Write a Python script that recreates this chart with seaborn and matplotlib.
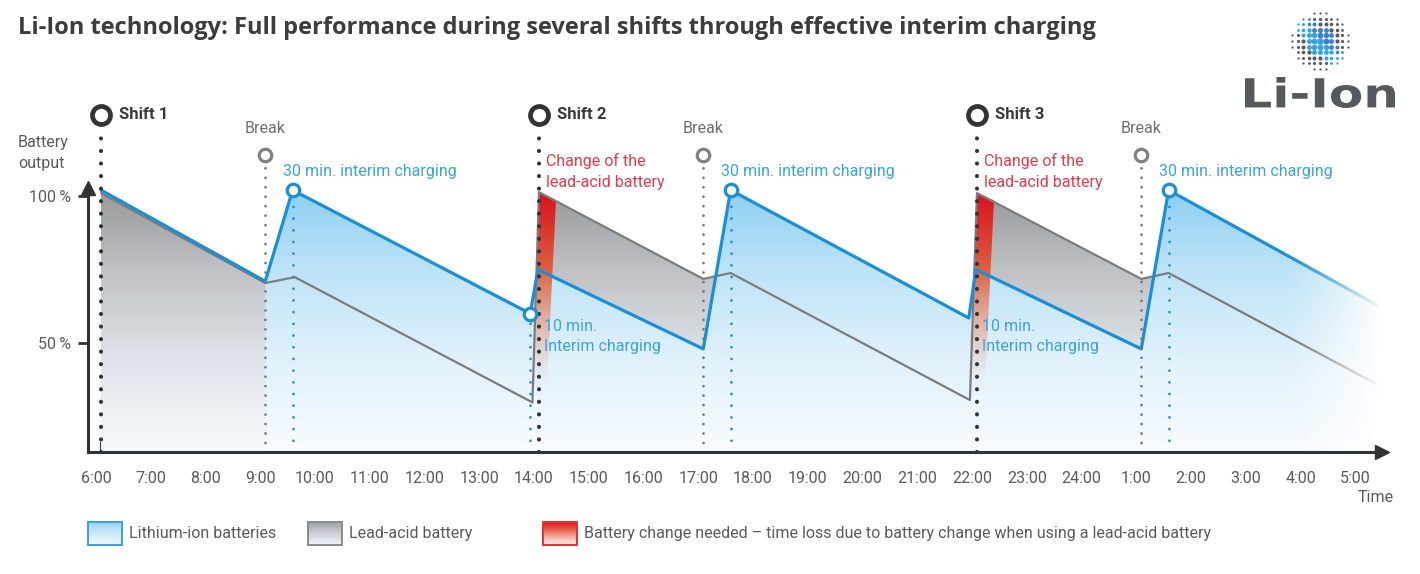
import matplotlib
matplotlib.use("Agg")
import matplotlib.pyplot as plt
import numpy as np
import seaborn as sns
from matplotlib.colors import LinearSegmentedColormap, to_rgba
from matplotlib.font_manager import FontProperties
from matplotlib.patches import PathPatch, Rectangle
from matplotlib.textpath import TextPath
from matplotlib.transforms import Affine2D, ScaledTranslation

TITLE = "Li-Ion technology: Full performance during several shifts through effective interim charging"

# time axis in hours counted from 6:00 (24 = midnight, 29 = 5:00 next morning)
TICK_HOURS = [6, 7, 8, 9, 10, 11, 12, 13, 14, 15, 16, 17, 18, 19, 20, 21, 22, 23, 24, 25, 26, 27, 28, 29]
TICK_LABELS = ["6:00", "7:00", "8:00", "9:00", "10:00", "11:00", "12:00", "13:00", "14:00",
               "15:00", "16:00", "17:00", "18:00", "19:00", "20:00", "21:00", "22:00", "23:00",
               "24:00", "1:00", "2:00", "3:00", "4:00", "5:00"]

# battery output in percent
LI_TIME = [6.0, 9.0, 9.5, 13.84, 13.98, 17.0, 17.5, 21.85, 21.98, 25.0, 25.5, 29.3]
LI_OUTPUT = [102, 71, 102, 60, 75, 48, 102, 58.5, 75, 48, 102, 63]
LA_TIME = [6.0, 9.0, 9.54, 13.88, 14.0, 17.0, 17.5, 21.87, 22.0, 25.0, 25.5, 29.3]
LA_OUTPUT = [101, 70.4, 72.4, 29.8, 101.3, 71.8, 73.8, 30.6, 101, 71.8, 73.8, 36]

SHIFT_TIME = [6, 14, 22]
SHIFT_NAMES = ["Shift 1", "Shift 2", "Shift 3"]
BREAK_TIME = [9, 17, 25]
CHARGE30_TIME = [9.5, 17.5, 25.5]
CHARGE30_OUTPUT = [102, 102, 102]
CHARGE10_TIME = [13.84]
CHARGE10_OUTPUT = [60]
CHANGE_TIME = [14.0, 22.0]
# red wedge (time offset from battery change, output)
WEDGE_DT = [-0.1, 0.0, 0.31, 0.13]
WEDGE_OUTPUT = [30, 101, 98.5, 30]

Y_TICKS = [50, 100]
Y_LABELS = ["50\u2009%", "100\u2009%"]

BLUE = "#1a8fd6"
BLUE_TEXT = "#3ba2dc"
RED_TEXT = "#e63a4a"
DARK = "#333333"
GREY_TEXT = "#5a5a5a"

X0, X1 = 5.7626, 29.397
Y0, Y1 = 12.93, 102.72


def vgrad_cmap(name, stops):
    """Colormap where each stop is given as (output value, colour)."""
    return LinearSegmentedColormap.from_list(
        name, [((v - Y0) / (Y1 - Y0), to_rgba(c, a)) for v, c, a in stops])


def gradient_image(ax, cmap, x0, x1, zorder):
    grad = np.linspace(1, 0, 256).reshape(-1, 1)
    return ax.imshow(grad, extent=[x0, x1, Y0, Y1], aspect="auto", cmap=cmap,
                     vmin=0, vmax=1, origin="upper", zorder=zorder, interpolation="bicubic")


def gradient_fill(ax, x, y, cmap, zorder):
    poly = ax.fill_between(x, y, Y0, facecolor="none", edgecolor="none", zorder=zorder)
    im = gradient_image(ax, cmap, min(x), max(x), zorder)
    im.set_clip_path(poly.get_paths()[0], transform=ax.transData)


def dotted_vline(ax, x, y_low, y_high, color, lw, gap, zorder):
    ax.plot([x, x], [y_low, y_high], color=color, lw=lw, ls=(0, (0.01, gap)),
            dash_capstyle="round", clip_on=False, zorder=zorder)


sns.set_theme(style="white")
plt.rcParams["font.family"] = ["Roboto", "DejaVu Sans"]

fig = plt.figure(figsize=(14.2, 5.74), dpi=100)

# overlay in pixel coordinates for title, legend and logo
ov = fig.add_axes([0, 0, 1, 1])
ov.set_xlim(0, 1420)
ov.set_ylim(574, 0)
ov.axis("off")

ax = fig.add_axes([88 / 1420, 122 / 574, 1294 / 1420, 264 / 574])
ax.patch.set_alpha(0)

grey_cmap = vgrad_cmap("lead", [(Y0, "#f7fafd", 1), (45, "#dfe4ea", 1), (75, "#bfc1c4", 1),
                                (101, "#9a9a9c", 1), (Y1, "#959597", 1)])
blue_cmap = vgrad_cmap("li", [(Y0, "#f8fbfe", 1), (45, "#e0f1fb", 1), (75, "#bde3f7", 1),
                              (102, "#8dcff1", 1), (Y1, "#8dcff1", 1)])
red_cmap = vgrad_cmap("change", [(Y0, "#f0c8bc", 0), (35, "#f0c8bc", 0), (55, "#e8a088", 0.65),
                                 (75, "#e05a3a", 0.95), (100, "#d8141e", 1), (Y1, "#d8141e", 1)])
red_legend = vgrad_cmap("change_leg", [(Y0, "#ffffff", 1), (40, "#f6d0c6", 1), (75, "#e86048", 1),
                                       (100, "#d8141e", 1), (Y1, "#d8141e", 1)])

gradient_fill(ax, LA_TIME, LA_OUTPUT, grey_cmap, 1)
gradient_fill(ax, LI_TIME[1:], LI_OUTPUT[1:], blue_cmap, 2)

for c in CHANGE_TIME:
    patch = ax.fill([c + d for d in WEDGE_DT], WEDGE_OUTPUT, facecolor="none", edgecolor="none")[0]
    im = gradient_image(ax, red_cmap, c - 0.2, c + 0.4, 3)
    im.set_clip_path(patch)

sns.lineplot(x=LA_TIME, y=LA_OUTPUT, ax=ax, color="#7c7c7c", lw=1.6, estimator=None, zorder=4)
sns.lineplot(x=LI_TIME, y=LI_OUTPUT, ax=ax, color=BLUE, lw=2.3, estimator=None, zorder=5)

# vertical dotted guides
for t in SHIFT_TIME:
    dotted_vline(ax, t, Y0, 123, DARK, 3.0, 3.0, 5.5)
for t in BREAK_TIME:
    dotted_vline(ax, t, Y0, 110.5, "#777777", 2.0, 3.4, 5.5)
for t, v in zip(CHARGE30_TIME + CHARGE10_TIME, CHARGE30_OUTPUT + CHARGE10_OUTPUT):
    dotted_vline(ax, t, Y0, v, BLUE, 2.0, 4.2, 5.5)

# fade out on the right edge
fade = np.ones((1, 256, 4))
fade[..., 3] = np.linspace(0, 1, 256) ** 1.3
ax.imshow(fade, extent=[27.6, X1, Y0, Y1], aspect="auto", zorder=6, interpolation="bicubic")

# circle markers
ax.plot(SHIFT_TIME, [127.6] * 3, "o", ms=13, mew=3.4, mec=DARK, mfc="white", clip_on=False, zorder=8)
ax.plot(BREAK_TIME, [113.9] * 3, "o", ms=9, mew=2.3, mec="#808080", mfc="white", clip_on=False, zorder=8)
ax.plot(CHARGE30_TIME + CHARGE10_TIME, CHARGE30_OUTPUT + CHARGE10_OUTPUT, "o", ms=9, mew=2.3,
        mec=BLUE, mfc="white", clip_on=False, zorder=8)

# annotations
for t, name in zip(SHIFT_TIME, SHIFT_NAMES):
    ax.text(t + 0.33, 127.6, name, fontsize=12, fontweight="bold", color="#3a3a3a",
            va="center", ha="left", clip_on=False)
for t in BREAK_TIME:
    ax.text(t, 122.8, "Break", fontsize=11.5, color="#6e6e6e", ha="center", va="center", clip_on=False)
for t in CHARGE30_TIME:
    ax.text(t - 0.17, 108.4, "30 min. interim charging", fontsize=11.5, color=BLUE_TEXT,
            ha="left", va="center", clip_on=False)
for t in CHANGE_TIME:
    ax.text(t + 0.13, 108.4, "Change of the\nlead-acid battery", fontsize=11.5, color=RED_TEXT,
            ha="left", va="center", linespacing=1.45, clip_on=False, zorder=9)
    ax.text(t + 0.1, 52.2, "10 min.\nInterim charging", fontsize=11.5, color=BLUE_TEXT,
            ha="left", va="center", linespacing=1.45, zorder=9)

# axes styling
ax.set_xlim(X0, X1)
ax.set_ylim(Y0, Y1)
ax.set_xticks(TICK_HOURS)
ax.set_xticklabels(TICK_LABELS)
ax.set_yticks(Y_TICKS)
ax.set_yticklabels(Y_LABELS)
ax.tick_params(axis="x", direction="in", length=7, width=1.5, color=DARK, pad=14,
               labelsize=11.5, labelcolor=GREY_TEXT, bottom=True)
ax.tick_params(axis="y", direction="out", length=7, width=2.0, color=DARK, pad=5,
               labelsize=11.5, labelcolor=GREY_TEXT, left=True)
# the time labels sit a little left of their ticks in the original
shift_left = ScaledTranslation(-5 / 100, 0, fig.dpi_scale_trans)
for label in ax.get_xticklabels():
    label.set_transform(label.get_transform() + shift_left)
ax.set_xlabel("")
ax.set_ylabel("")
for side in ["top", "right"]:
    ax.spines[side].set_visible(False)
for side in ["left", "bottom"]:
    ax.spines[side].set_color(DARK)
    ax.spines[side].set_linewidth(2.2)
    ax.spines[side].set_zorder(9)
ax.plot(1, 0, ">", ms=10, color=DARK, transform=ax.transAxes, clip_on=False, zorder=10)
ax.plot(0, 1, "^", ms=10, color=DARK, transform=ax.transAxes, clip_on=False, zorder=10)
ax.grid(False)

# titles and labels
ov.text(18, 28, TITLE, fontsize=17, fontweight="bold", color="#3c3c3c", ha="left", va="center",
        family=["Open Sans", "DejaVu Sans"])
ov.text(18, 153, "Battery\noutput", fontsize=11.5, color=GREY_TEXT, ha="left", va="center", linespacing=1.5)
ov.text(1376, 497, "Time", fontsize=11.5, color=GREY_TEXT, ha="center", va="center")

# legend
legend_items = [
    (88, "Lithium-ion batteries", blue_cmap, "#3aa0dc"),
    (308, "Lead-acid battery", grey_cmap, "#8a8a8a"),
    (543, "Battery change needed \u2013 time loss due to battery change when using a lead-acid battery",
     red_legend, "#e0303a"),
]
for x, label, cmap, edge in legend_items:
    grad = np.linspace(0.95, 0.15, 64).reshape(-1, 1)
    ov.imshow(grad, extent=[x, x + 34, 545, 522], aspect="auto", cmap=cmap, vmin=0, vmax=1,
              origin="upper", zorder=2)
    ov.add_patch(Rectangle((x, 522), 34, 23, fill=False, edgecolor=edge, lw=1.4, zorder=3))
    ov.text(x + 41, 533.5, label, fontsize=11.5, color=GREY_TEXT, ha="left", va="center")

# logo: dotted sphere and word mark
cx, cy, R = 1320, 41, 29
for i in range(-7, 8):
    for j in range(-7, 8):
        dx = i * 5.6
        dy = j * 5.6
        r = np.hypot(dx, dy)
        if r > R:
            continue
        size = 2.5 + 20 * (1 - r / R) ** 1.3
        band = dx + dy
        if abs(band) < 12 or (abs(band) < 20 and r < 16):
            colour = "#3a7fd0" if band > 0 else "#2ea3e6"
        else:
            colour = "#5a5b5d"
        ov.scatter(cx + dx, cy - dy, s=size, color=colour, lw=0, zorder=3)

tp = TextPath((0, 0), "Li-Ion", size=1, prop=FontProperties(family="DejaVu Sans", weight="bold"))
ext = tp.get_extents()
w, h = 150, 31
trans = (Affine2D().translate(-ext.x0, -ext.y0)
         .scale(w / ext.width, -h / ext.height).translate(1245, 108))
ov.add_patch(PathPatch(trans.transform_path(tp), facecolor="#55595c", edgecolor="none"))
ov.set_xlim(0, 1420)
ov.set_ylim(574, 0)

fig.savefig("out.png", dpi=100)
